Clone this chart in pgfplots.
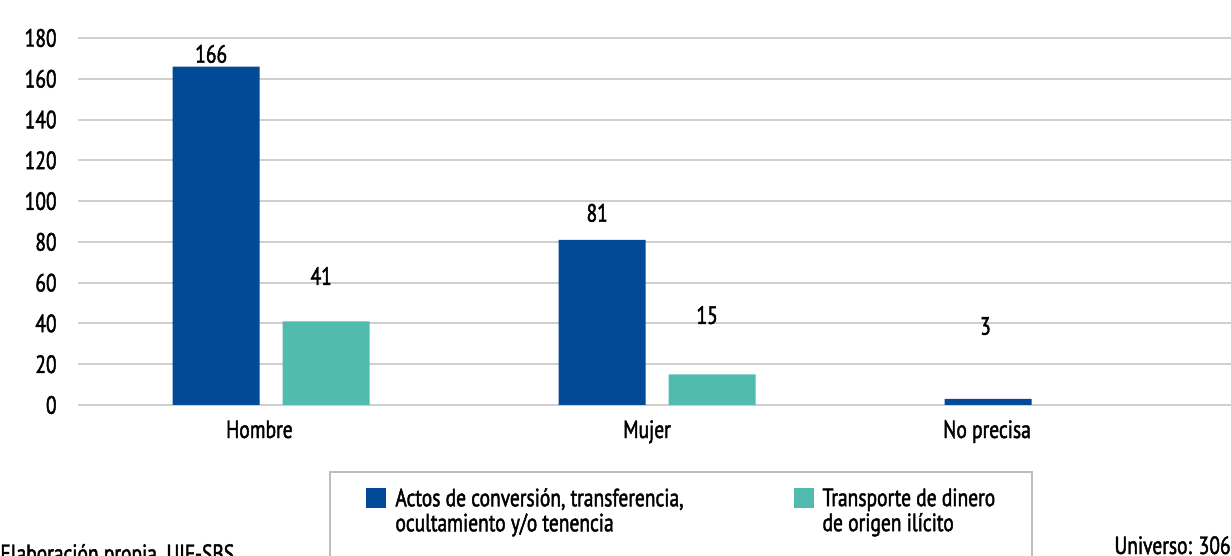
\documentclass[border=0pt]{standalone}
\usepackage{pgfplots}
\pgfplotsset{compat=1.18}
\usepackage{fontspec}
\setmainfont{PT Sans}[FakeStretch=0.78, FakeBold=1.8]
\definecolor{barblue}{HTML}{004A98}
\definecolor{barteal}{HTML}{52BBAF}
\definecolor{gridgray}{HTML}{CFCFCF}
\definecolor{framegray}{HTML}{BDBDBD}

\begin{document}
\fontsize{12.5}{12.5}\selectfont
\begin{tikzpicture}
\clip (-39pt,-75.5pt) rectangle (576.5pt,202.5pt);
\begin{axis}[
    at={(0pt,0pt)}, anchor=south west,
    scale only axis, width=576.5pt, height=183.5pt,
    xmin=-0.5, xmax=2.487, ymin=0, ymax=180,
    axis line style={draw=none},
    major tick length=0pt,
    ytick={0,20,...,180},
    ymajorgrids,
    grid style={gridgray, line width=1pt},
    xtick={-0.03,0.974,1.855},
    xticklabels={Hombre,Mujer,No precisa},
    /pgf/number format/assume math mode=true,
    yticklabel style={anchor=east, inner sep=0pt, xshift=-10.5pt},
    xticklabel style={anchor=base, inner sep=0pt, yshift=-16.5pt},
    clip=false,
    legend style={at={(0.2498,-0.215)}, anchor=north west, draw=none, fill=none,
        inner sep=0pt, legend columns=2,
        cells={align=left, anchor=west},
        /tikz/every odd column/.append style={column sep=2.5pt},
        /tikz/every even column/.append style={column sep=53pt},
        font=\fontsize{12.5}{12.5}\selectfont},
]
\addplot[ybar, bar width=43.5pt, bar shift=-27.5pt, fill=barblue, draw=none,
    legend image code/.code={\fill[barblue] (0pt,2pt) rectangle (10pt,12pt);}]
    coordinates {(0,166) (1,81) (2,3)};
\addlegendentry{Actos de conversión, transferencia,\\ocultamiento y/o tenencia}
\addplot[ybar, bar width=43.5pt, bar shift=27.5pt, fill=barteal, draw=none,
    legend image code/.code={\fill[barteal] (0pt,2pt) rectangle (10pt,12pt);}]
    coordinates {(0,41) (1,15)};
\addlegendentry{Transporte de dinero\\de origen ilícito}
% value labels, placed where the reference shows them
\addplot[draw=none, mark=none, forget plot, nodes near coords,
    point meta=explicit symbolic,
    nodes near coords style={anchor=center, inner sep=0pt}]
    table[meta=lbl] {
x      y     lbl
-0.155 172.2 166
0.13   63.3  41
0.845  94.2  81
1.13   44.1  15
1.851  38.7  3
};
\end{axis}
\draw[framegray, line width=1pt] (126pt,-95pt) -- (126pt,-33.5pt) -- (477pt,-33.5pt) -- (477pt,-95pt);
\node[anchor=base west, inner sep=0pt] at (-39pt,-78.5pt) {Elaboración propia, UIF-SBS};
\node[anchor=base east, inner sep=0pt] at (576.5pt,-74.5pt) {Universo: 306};
\end{tikzpicture}
\end{document}
